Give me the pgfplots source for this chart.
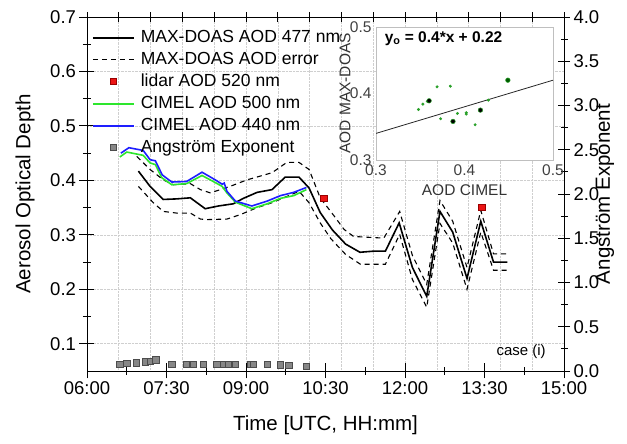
\documentclass[border=0pt]{standalone}
\usepackage{pgfplots}
\pgfplotsset{compat=1.18}
\usepackage{fontspec}
\setmainfont{Liberation Sans}
\definecolor{cgreen}{RGB}{45,230,45}
\definecolor{cblue}{RGB}{30,30,255}
\definecolor{cred}{RGB}{235,20,20}
\definecolor{cgray}{RGB}{135,135,135}
\definecolor{dgreen}{RGB}{40,160,40}
\pgfplotsset{
 lineleg/.style={legend image code/.code={\draw[##1] (0pt,0pt) -- (41pt,0pt);}},
 markleg/.style={legend image code/.code={\draw[##1, only marks] plot coordinates {(20.5pt,0pt)};}},
 base/.style={scale only axis, width=477pt, height=354pt, at={(0pt,0pt)}, anchor=south west, xmin=6, xmax=15,
   tick align=center, /pgf/number format/assume math mode=true,
   tick label style={font=\fontsize{18.5}{20}\selectfont},
   label style={font=\fontsize{20.5}{24}\selectfont},
   axis line style={line width=0.9pt}, every tick/.append style={black, line width=0.9pt}},
}
\begin{document}
\begin{tikzpicture}
% grid and top ticks
\begin{axis}[base, ymin=0.05, ymax=0.7,
  axis line style={draw=none},
  xtick={6,6.6,7.2,7.8,8.4,9,9.6,10.2,10.8,11.4,12,12.6,13.2,13.8,14.4,15},
  xtick pos=right, xticklabels={}, major tick length=10pt,
  ytick={0.1,0.2,0.3,0.4,0.5,0.6}, yticklabels={}, ytick style={draw=none},
  xmajorgrids, ymajorgrids, grid style={densely dotted, gray!38, line width=0.6pt}]
\addplot[draw=none, forget plot] coordinates {(6,0.1)};
\end{axis}
% main axis
\begin{axis}[base, ymin=0.05, ymax=0.7,
  xtick={6,7.5,9,10.5,12,13.5,15},
  xticklabels={06:00,07:30,09:00,10:30,12:00,13:30,15:00},
  minor x tick num=1, xtick pos=left, ytick pos=left,
  ytick={0.1,0.2,0.3,0.4,0.5,0.6,0.7}, minor y tick num=1,
  major tick length=15pt, minor tick length=8pt,
  yticklabel style={/pgf/number format/.cd, fixed, precision=1},
  xlabel={Time [UTC, HH:mm]}, ylabel={Aerosol Optical Depth},
  xlabel style={at={(axis description cs:0.5,-0.153)}, anchor=center},
  ylabel style={at={(axis description cs:-0.130,0.5)}, anchor=center},
  legend cell align=left,
  legend style={at={(axis description cs:0,1)}, anchor=north west, xshift=5pt, yshift=-12pt,
    draw=none, fill=none, inner sep=0pt, row sep=5pt, column sep=6pt,
    font=\fontsize{17.5}{20}\selectfont,
    nodes={inner sep=0pt, text height=13pt, text depth=4pt}}]
\addlegendimage{black, line width=1.6pt, lineleg}
\addlegendentry{MAX-DOAS AOD 477 nm}
\addlegendimage{black, line width=1.1pt, dash pattern=on 5pt off 4pt, lineleg}
\addlegendentry{MAX-DOAS AOD error}
\addlegendimage{mark=square*, mark size=3pt, mark options={fill=cred, draw=red!60!black, line width=0.5pt}, markleg}
\addlegendentry{lidar AOD 520 nm}
\addlegendimage{cgreen, line width=1.6pt, lineleg}
\addlegendentry{CIMEL AOD 500 nm}
\addlegendimage{cblue, line width=1.6pt, lineleg}
\addlegendentry{CIMEL AOD 440 nm}
\addlegendimage{mark=square*, mark size=3pt, mark options={fill=cgray, draw=gray!60!black, line width=0.5pt}, markleg}
\addlegendentry{Angström Exponent}
% error lines
\addplot[black, line width=1.1pt, dash pattern=on 5pt off 4pt, forget plot] coordinates {
(6.94,0.444) (7.19,0.420) (7.44,0.401) (7.63,0.392) (7.95,0.394) (8.14,0.383) (8.33,0.377)
(8.70,0.389) (9.02,0.401) (9.49,0.414) (9.77,0.433) (10.00,0.433) (10.19,0.420) (10.40,0.368)
(10.66,0.335) (10.85,0.310) (11.03,0.297) (11.60,0.294) (11.90,0.343) (12.14,0.262) (12.41,0.209)
(12.66,0.363) (12.90,0.325) (13.17,0.240) (13.43,0.345) (13.67,0.265) (13.93,0.265)};
\addplot[black, line width=1.1pt, dash pattern=on 5pt off 4pt, forget plot] coordinates {
(6.97,0.389) (7.25,0.359) (7.44,0.343) (7.69,0.340) (7.95,0.340) (8.14,0.329) (8.26,0.328)
(8.64,0.329) (8.89,0.337) (9.21,0.350) (9.49,0.359) (10.00,0.380) (10.19,0.359) (10.40,0.322)
(10.60,0.293) (10.88,0.264) (11.16,0.246) (11.63,0.246) (11.90,0.301) (12.14,0.218) (12.41,0.167)
(12.66,0.321) (12.90,0.285) (13.17,0.200) (13.43,0.305) (13.67,0.235) (13.93,0.235)};
% MAX-DOAS
\addplot[black, line width=1.6pt, forget plot] coordinates {
(6.97,0.417) (7.19,0.389) (7.44,0.365) (7.69,0.366) (7.95,0.368) (8.23,0.348) (8.48,0.353)
(8.76,0.357) (8.95,0.367) (9.21,0.378) (9.49,0.383) (9.74,0.406) (10.00,0.406) (10.19,0.386)
(10.40,0.341) (10.63,0.309) (10.88,0.283) (11.15,0.268) (11.40,0.270) (11.63,0.270) (11.89,0.322)
(12.14,0.240) (12.41,0.187) (12.66,0.343) (12.90,0.305) (13.17,0.220) (13.43,0.325) (13.67,0.250) (13.93,0.250)};
% CIMEL 500
\addplot[cgreen, line width=1.6pt, forget plot] coordinates {
(6.62,0.443) (6.75,0.452) (7.06,0.446) (7.19,0.432) (7.29,0.429) (7.41,0.405) (7.60,0.392)
(7.88,0.394) (8.17,0.409) (8.42,0.396) (8.55,0.389) (8.64,0.377) (8.80,0.360) (9.11,0.348)
(9.40,0.357) (9.65,0.367) (9.90,0.372) (10.14,0.383)};
% CIMEL 440
\addplot[cblue, line width=1.6pt, forget plot] coordinates {
(6.64,0.450) (6.79,0.460) (7.06,0.455) (7.19,0.438) (7.29,0.436) (7.42,0.410) (7.60,0.397)
(7.88,0.398) (8.17,0.415) (8.42,0.401) (8.55,0.393) (8.59,0.395) (8.64,0.380) (8.80,0.362)
(9.11,0.353) (9.40,0.362) (9.65,0.372) (9.90,0.378) (10.14,0.387)};
% lidar
\addplot[only marks, mark=square*, mark size=3.3pt, mark options={fill=cred, draw=red!60!black, line width=0.5pt}, forget plot] coordinates {
(10.47,0.367) (13.45,0.351)};
\node[anchor=east, font=\fontsize{15}{17}\selectfont] at (rel axis cs:0.969,0.054) {case (i)};
\end{axis}
% right axis
\begin{axis}[base, ymin=0, ymax=4, axis y line*=right, axis x line=none,
  ytick={0,0.5,...,4}, minor y tick num=1, major tick length=12pt, minor tick length=7pt,
  yticklabel style={/pgf/number format/.cd, fixed, fixed zerofill, precision=1},
  ylabel={Angström Exponent},
  ylabel style={at={(axis description cs:1.086,0.5)}, anchor=center}]
\addplot[only marks, mark=square*, mark size=3.2pt, mark options={fill=cgray, draw=gray!60!black, line width=0.5pt}] coordinates {
(6.62,0.076) (6.75,0.087) (6.93,0.094) (7.10,0.105) (7.19,0.113) (7.30,0.125) (7.60,0.079)
(7.87,0.076) (8.01,0.079) (8.19,0.079) (8.45,0.076) (8.57,0.076) (8.67,0.076) (8.80,0.076)
(9.09,0.076) (9.14,0.076) (9.40,0.076) (9.65,0.071) (9.81,0.068) (10.14,0.053)};
\end{axis}
% inset
\begin{axis}[scale only axis, width=177pt, height=133pt, at={(289pt,211pt)}, anchor=south west,
  xmin=0.3, xmax=0.5, ymin=0.3, ymax=0.5,
  xtick={0.3,0.4,0.5}, ytick={0.3,0.4,0.5}, major tick length=0pt,
  axis background/.style={fill=white},
  axis line style={gray!50, line width=0.6pt},
  /pgf/number format/assume math mode=true,
  tick label style={font=\fontsize{15.5}{17}\selectfont, text=black!75},
  xticklabel style={/pgf/number format/.cd, fixed, precision=1, /tikz/.cd, yshift=-1.5pt},
  yticklabel style={/pgf/number format/.cd, fixed, precision=1, /tikz/.cd, xshift=-1pt},
  label style={font=\fontsize{15.5}{17}\selectfont, text=black!80},
  xlabel={AOD CIMEL}, ylabel={AOD MAX-DOAS},
  xlabel style={at={(axis description cs:0.5,-0.226)}, anchor=center},
  ylabel style={at={(axis description cs:-0.175,0.5)}, anchor=center}]
\addplot[black!85, line width=0.8pt] coordinates {(0.3,0.34) (0.5,0.42)};
\addplot[only marks, mark=*, mark size=1.3pt, mark options={fill=dgreen, draw=dgreen}] coordinates {
(0.348,0.376) (0.353,0.384) (0.358,0.388) (0.369,0.410) (0.384,0.411) (0.373,0.362)
(0.392,0.370) (0.402,0.369) (0.402,0.371) (0.412,0.353) (0.427,0.390)};
\addplot[only marks, mark=*, mark size=2.3pt, mark options={fill=black, draw=dgreen, line width=0.5pt}] coordinates {
(0.360,0.389) (0.387,0.358) (0.418,0.375)};
\addplot[only marks, mark=*, mark size=2.3pt, mark options={fill=green!35!black, draw=dgreen, line width=0.5pt}] coordinates {
(0.449,0.420)};
\node[anchor=west, font=\fontsize{15.5}{17}\selectfont\bfseries] at (rel axis cs:0.03,0.915) {y\textsubscript{o} = 0.4*x + 0.22};
\end{axis}
\pgfresetboundingbox
\path[use as bounding box] (-87pt,-73pt) rectangle (540pt,371pt);
\end{tikzpicture}
\end{document}
